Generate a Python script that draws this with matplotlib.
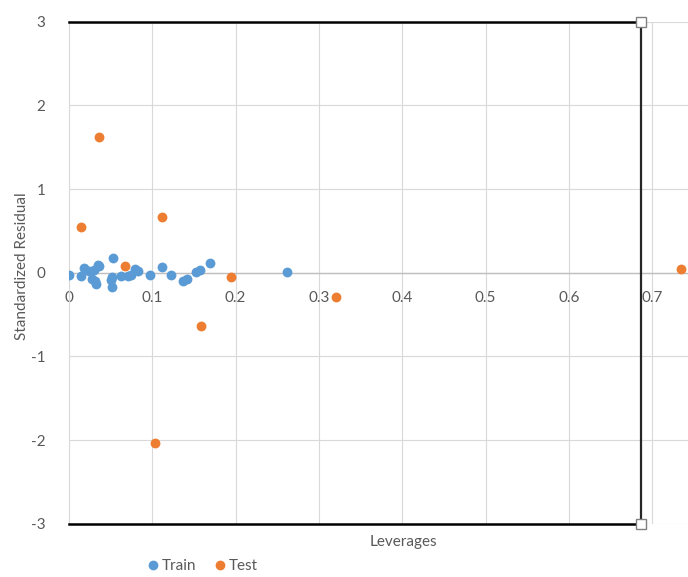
import matplotlib
matplotlib.use("Agg")
import matplotlib.pyplot as plt
from matplotlib.lines import Line2D

plt.rcParams['font.family'] = ['Lato', 'DejaVu Sans']
plt.rcParams['axes.unicode_minus'] = False

# Data
train_lev = [0.000, 0.014, 0.018, 0.024, 0.028, 0.032, 0.030, 0.036, 0.035, 0.031,
             0.053, 0.050, 0.052, 0.052, 0.063, 0.071, 0.075, 0.079, 0.083,
             0.097, 0.112, 0.122, 0.137, 0.142, 0.153, 0.157, 0.169, 0.262]
train_res = [-0.03, -0.04, 0.056, 0.02, -0.07, -0.13, 0.03, 0.08, 0.09, -0.10,
             0.18, -0.09, -0.05, -0.17, -0.04, -0.04, -0.03, 0.05, 0.02,
             -0.03, 0.07, -0.03, -0.10, -0.08, 0.01, 0.03, 0.12, 0.01]
test_lev = [0.0144, 0.036, 0.067, 0.112, 0.194, 0.320, 0.103, 0.158, 0.735]
test_res = [0.55, 1.62, 0.08, 0.66, -0.055, -0.29, -2.03, -0.64, 0.04]

h_star = 0.687
res_limit = 3

x_ticks = [0, 0.1, 0.2, 0.3, 0.4, 0.5, 0.6, 0.7]
x_ticklabels = ["0", "0.1", "0.2", "0.3", "0.4", "0.5", "0.6", "0.7"]
y_ticks = [-3, -2, -1, 0, 1, 2, 3]

BLUE = "#5B9BD5"
ORANGE = "#ED7D31"
GRID = "#D9D9D9"
TXT = "#595959"
FS = 11

W, H = 688, 577
fig = plt.figure(figsize=(W / 100, H / 100), dpi=100)
left = 69 / W
bottom = (H - 523.7) / H
top = (H - 21.7) / H
ax = fig.add_axes([left, bottom, 1 - left, top - bottom])

ax.set_xlim(0, 0.743)
ax.set_ylim(-3, 3)

ax.set_xticks(x_ticks)
ax.set_xticklabels(x_ticklabels)
ax.set_yticks(y_ticks)
ax.grid(True, color=GRID, lw=0.8, zorder=0)

for s in ["top", "right"]:
    ax.spines[s].set_visible(False)
ax.spines["left"].set_color(GRID)
ax.spines["left"].set_linewidth(0.8)
ax.spines["bottom"].set_position(("data", 0))
ax.spines["bottom"].set_color("#BFBFBF")
ax.spines["bottom"].set_linewidth(1.0)

ax.tick_params(axis="x", length=0, pad=13, labelsize=FS, labelcolor=TXT)
ax.tick_params(axis="y", length=0, pad=17, labelsize=FS, labelcolor=TXT)

# Williams plot limits
ax.plot([0, h_star], [res_limit, res_limit], color="black", lw=1.8, zorder=3, clip_on=False)
ax.plot([0, h_star], [-res_limit, -res_limit], color="black", lw=1.8, zorder=3, clip_on=False)
ax.plot([h_star, h_star], [-res_limit, res_limit], color="#262626", lw=1.6, zorder=3,
        marker="s", markersize=6.5, markerfacecolor="white", markeredgecolor="#808080",
        markeredgewidth=1.0, clip_on=False)

ax.scatter(train_lev, train_res, s=50, color=BLUE, zorder=4, linewidths=0)
ax.scatter(test_lev, test_res, s=50, color=ORANGE, zorder=5, linewidths=0)

fig.text(22 / W, 1 - 266 / H, "Standardized Residual", rotation=90, ha="center",
         va="center", fontsize=FS, color=TXT)
fig.text(403 / W, 1 - 542 / H, "Leverages", ha="center", va="center",
         fontsize=FS, color=TXT)

handles = [Line2D([], [], ls="none", marker="o", color=BLUE, markersize=6),
           Line2D([], [], ls="none", marker="o", color=ORANGE, markersize=6)]
fig.legend(handles, ["Train", "Test"], loc="center", ncol=2,
           bbox_to_anchor=(203 / W, 1 - 566 / H), frameon=False,
           handlelength=0.6, handletextpad=0.3, columnspacing=1.2,
           fontsize=FS, labelcolor=TXT)

fig.savefig("out.png", dpi=100)
